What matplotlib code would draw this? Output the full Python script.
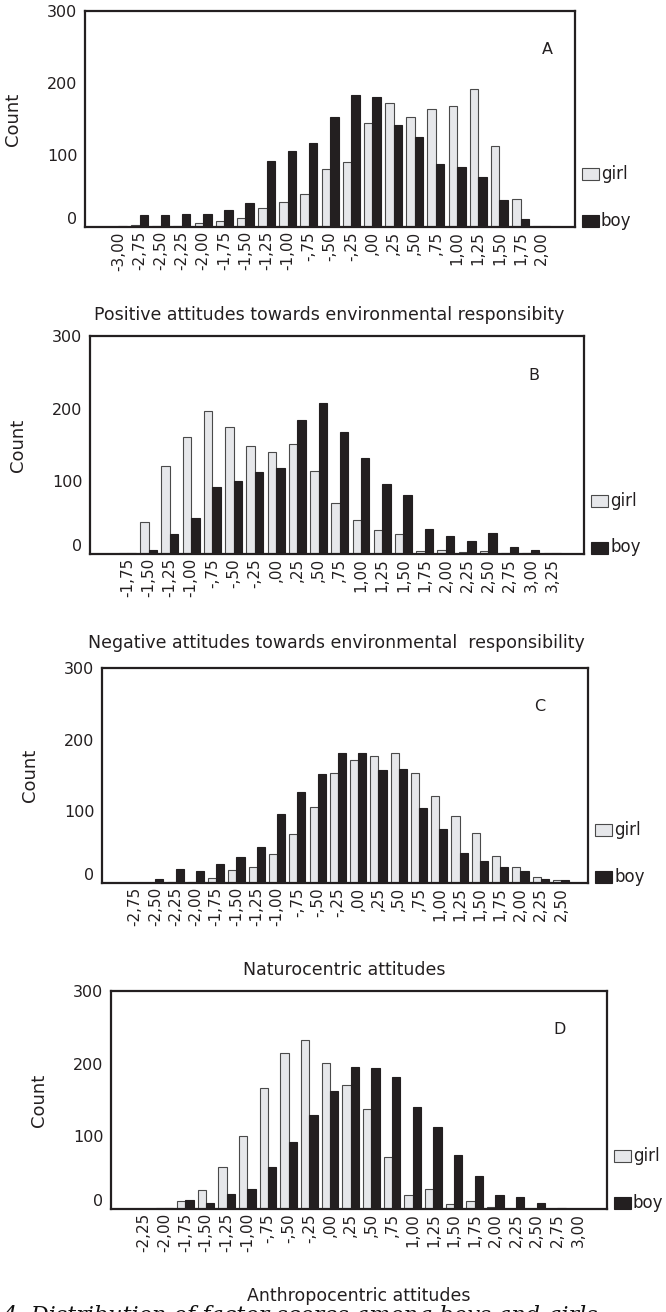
import numpy as np
import matplotlib
matplotlib.use("Agg")
import matplotlib.pyplot as plt
from matplotlib.patches import Rectangle

plt.rcParams['font.family'] = ['DejaVu Sans']

W, H = 666, 1312

# panel A
labels_a = ["-3,00", "-2,75", "-2,50", "-2,25", "-2,00", "-1,75", "-1,50", "-1,25",
            "-1,00", "-,75", "-,50", "-,25", ",00", ",25", ",50", ",75", "1,00",
            "1,25", "1,50", "1,75", "2,00"]
girl_a = [0, 3, 2, 2, 5, 8, 13, 26, 35, 46, 80, 90, 144, 172, 153, 164, 168, 192, 112, 39, 2]
boy_a = [2, 17, 16, 18, 18, 24, 33, 92, 106, 117, 153, 183, 180, 141, 125, 88, 83, 69, 37, 11, 1]

# panel B
labels_b = ["-1,75", "-1,50", "-1,25", "-1,00", "-,75", "-,50", "-,25", ",00", ",25",
            ",50", ",75", "1,00", "1,25", "1,50", "1,75", "2,00", "2,25", "2,50",
            "2,75", "3,00", "3,25"]
girl_b = [1, 44, 121, 161, 197, 175, 149, 141, 151, 114, 70, 47, 33, 28, 4, 6, 3, 4, 1, 2, 1]
boy_b = [1, 6, 27, 50, 92, 100, 113, 119, 184, 208, 168, 132, 96, 81, 35, 25, 18, 29, 10, 6, 2]

# panel C
labels_c = ["-2,75", "-2,50", "-2,25", "-2,00", "-1,75", "-1,50", "-1,25", "-1,00",
            "-,75", "-,50", "-,25", ",00", ",25", ",50", ",75", "1,00", "1,25",
            "1,50", "1,75", "2,00", "2,25", "2,50"]
girl_c = [0, 0, 2, 2, 7, 18, 23, 40, 68, 106, 153, 171, 177, 181, 153, 121, 94, 70, 37, 23, 8, 4]
boy_c = [0.5, 6, 19, 17, 27, 36, 50, 96, 127, 152, 182, 181, 158, 159, 105, 75, 42, 31, 22, 17, 6, 4]

# panel D
labels_d = ["-2,25", "-2,00", "-1,75", "-1,50", "-1,25", "-1,00", "-,75", "-,50",
            "-,25", ",00", ",25", ",50", ",75", "1,00", "1,25", "1,50", "1,75",
            "2,00", "2,25", "2,50", "2,75", "3,00"]
girl_d = [0, 2, 11, 26, 58, 101, 167, 214, 232, 201, 170, 138, 71, 19, 28, 7, 11, 3, 0, 0, 0, 0]
boy_d = [0.5, 2, 13, 8, 21, 27, 58, 92, 130, 163, 195, 194, 182, 140, 113, 74, 45, 19, 17, 8, 2, 0.5]

titles = ["Positive attitudes towards environmental responsibity",
          "Negative attitudes towards environmental  responsibility",
          "Naturocentric attitudes",
          "Anthropocentric attitudes"]

GIRL = "#e6e7ea"
GIRL_EDGE = "#4a4a4a"
BOY = "#231f20"
INK = "#231f20"

fig = plt.figure(figsize=(W / 100, H / 100), dpi=100)


def fx(px):
    return px / W


def fy(py):
    return 1 - py / H


def panel(box, labels, girl, boy, xlim, letter, letter_x):
    l, r, t, b = box
    ax = fig.add_axes([fx(l), fy(b), (r - l) / W, (b - t) / H])
    x = np.arange(len(labels))
    ax.bar(x - 0.2, girl, 0.4, color=GIRL, edgecolor=GIRL_EDGE, linewidth=0.8)
    ax.bar(x + 0.2, boy, 0.4, color=BOY, edgecolor=BOY, linewidth=0.8)
    ax.set_xlim(*xlim)
    ax.set_ylim(0, 300)
    ax.set_xticks(x)
    ax.set_xticklabels(labels, rotation=90, fontsize=11, color=INK)
    ax.set_yticks([0, 100, 200, 300])
    ax.set_yticklabels(["0", "100", "200", "300"], fontsize=11.5, color=INK)
    ax.tick_params(length=0)
    ax.tick_params(axis="x", pad=3)
    ax.tick_params(axis="y", pad=5.5)
    ax.yaxis.get_major_ticks()[0].label1.set_verticalalignment("bottom")
    for s in ax.spines.values():
        s.set_linewidth(1.6)
        s.set_color(INK)
    ax.set_ylabel("Count", fontsize=13, color=INK)
    ax.yaxis.set_label_coords(-63 / (r - l), 0.5)
    fig.text(fx(letter_x), fy(t + 39), letter, fontsize=11.5, color=INK,
             ha="center", va="center")
    # legend to the right of the frame
    for name, face, edge, dy in [("girl", GIRL, GIRL_EDGE, 53), ("boy", BOY, BOY, 6.5)]:
        cy = b - dy
        fig.add_artist(Rectangle((fx(r + 7), fy(cy + 6)), 17 / W, 12 / H,
                                 transform=fig.transFigure, facecolor=face,
                                 edgecolor=edge, linewidth=0.8))
        fig.text(fx(r + 26), fy(cy), name, fontsize=12, color=INK,
                 ha="left", va="center")
    return ax


panel((85, 575, 11, 227), labels_a, girl_a, boy_a, (-1.58, 21.57), "A", 547)
panel((90, 584, 336, 554), labels_b, girl_b, boy_b, (-1.76, 21.5), "B", 534)
panel((102, 588, 668, 883), labels_c, girl_c, boy_c, (-1.63, 22.33), "C", 540)
panel((111, 607, 991, 1209), labels_d, girl_d, boy_d, (-1.6, 22.4), "D", 560)

for (cx, cy), t in zip([(329, 315), (336, 643), (344, 970), (359, 1296)], titles):
    fig.text(fx(cx), fy(cy), t, fontsize=12.5, color=INK, ha="center", va="center")

# caption cut at the bottom edge
fig.text(fx(2), fy(1305), "4: Distribution of factor scores among boys and girls",
         family="DejaVu Serif", style="italic", fontsize=16, color="#111",
         ha="left", va="top")

fig.savefig("out.png", dpi=100)
